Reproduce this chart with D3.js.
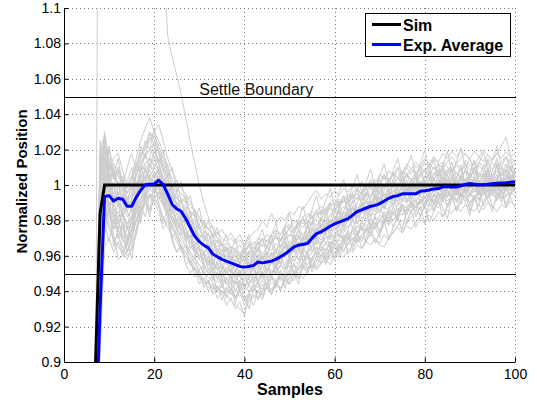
<!DOCTYPE html>
<html><head><meta charset="utf-8">
<script src="https://cdn.jsdelivr.net/npm/d3@7"></script>
<style>
body{margin:0;background:#fff}
svg{display:block;font-family:"Liberation Sans",Arial,Helvetica,sans-serif}
</style>
</head><body>
<svg id="c" width="537" height="403"></svg>
<script>
// ---------------- data ----------------
const xTicks = [0, 20, 40, 60, 80, 100];
const yTicks = [0.9, 0.92, 0.94, 0.96, 0.98, 1.0, 1.02, 1.04, 1.06, 1.08, 1.1];
const yTickLabels = ["0.9","0.92","0.94","0.96","0.98","1","1.02","1.04","1.06","1.08","1.1"];
const settleBounds = [0.95, 1.05];
const settleLabel = "Settle Boundary";
const xLabel = "Samples";
const yLabel = "Normalized Position";
const legendLabels = ["Sim", "Exp. Average"];

// Sim step response (key samples)
const simSamples = [0, 6, 7, 8, 9, 100];
const simValues  = [0, 0, 0.9, 0.984, 1, 1];

// Experimental average, samples 6..100
const avgStart = 6;
const avgValues = [
  0.2, 0.85, 0.93,
  0.9935, 0.994, 0.991, 0.9925, 0.992, 0.988, 0.988, 0.993,
  0.997, 1.0, 1.0004, 1.0006, 1.0027, 1.0002, 0.9948, 0.989, 0.9865, 0.985,
  0.981, 0.976, 0.971, 0.968, 0.966, 0.9645, 0.961, 0.9595, 0.958, 0.957,
  0.956, 0.955, 0.954, 0.9536, 0.954, 0.9545, 0.9565, 0.956, 0.9565, 0.957,
  0.958, 0.9595, 0.961, 0.963, 0.965, 0.966, 0.9665, 0.967, 0.970, 0.9725,
  0.9735, 0.975, 0.9767, 0.978, 0.979, 0.980, 0.981, 0.983, 0.985, 0.986,
  0.987, 0.988, 0.9885, 0.9895, 0.991, 0.9925, 0.9935, 0.994, 0.995, 0.995,
  0.995, 0.995, 0.9965, 0.9968, 0.9972, 0.9978, 0.998, 0.999, 0.999, 0.9988,
  0.9988, 0.9995, 1.0003, 1.0008, 1.0005, 1.0001, 1.0001, 1.0004, 1.0007, 1.001,
  1.0012, 1.0013, 1.0015, 1.0018
];

// Individual experimental runs, samples 7..100, values in thousandths
const runStart = 7;
const runs = [
 [850,985,1025,1012,1003,1010,1000,992,998,1008, 1015,1022,1030,1026,1020,1012,1004,997,992,990, 985,978,975,968,966,962,963,958,955,957, 952,955,950,953,956,953,958,955,960,958, 962,960,965,963,968,966,970,968,974,975, 973,978,980,977,982,980,985,983,988,986, 990,987,992,990,995,993,997,995,998,994, 999,997,1002,998,1001,999,1003,1000,998,1002, 1000,1004,1001,1003,999,1002,1005,1001,1003,1000, 1004,1001,1005,1002],
 [820,940,990,978,968,972,965,960,963,972, 985,992,998,1003,1000,994,988,982,978,975, 972,966,962,958,955,950,952,947,945,948, 944,946,942,945,947,944,948,950,947,952, 950,955,953,957,960,958,963,961,965,968, 966,970,972,970,975,973,977,979,978,982, 980,984,983,986,988,985,990,988,992,990, 993,991,994,990,995,993,996,994,997,995, 998,995,999,997,996,999,997,1000,998,996, 999,997,1000,998],
 [870,995,1010,998,990,996,985,978,982,990, 998,1005,1008,1004,1010,1002,995,988,984,982, 978,975,970,964,962,966,958,960,955,953, 955,952,956,950,952,958,955,959,956,960, 957,962,960,965,962,968,966,970,972,975, 972,977,975,980,978,982,984,981,986,988, 985,990,988,992,990,995,992,996,994,998, 995,999,996,1000,998,996,1001,999,1003,1000, 1002,999,1004,1001,1003,1000,1002,1005,1002,1004, 1001,1004,1002,1005],
 [880,1010,1020,1005,1000,1008,998,990,995,1005, 1012,1018,1020,1024,1018,1010,1002,996,993,990, 988,985,982,976,974,972,970,968,966,967, 965,964,966,962,965,968,966,970,968,972, 975,972,977,975,980,978,982,984,981,985, 988,985,990,992,989,994,991,996,998,995, 1000,998,1003,1000,1005,1002,1006,1004,1008,1005, 1009,1006,1010,1008,1012,1009,1011,1013,1010,1008, 1012,1010,1014,1011,1009,1013,1010,1015,1012,1010, 1013,1016,1012,1014],
 [800,920,980,985,975,980,972,968,975,985, 992,996,1000,998,995,990,983,976,970,965, 960,956,952,948,945,942,944,940,938,942, 939,936,940,935,938,942,940,944,941,945, 943,948,946,950,948,952,955,953,957,960, 958,962,960,965,963,967,970,968,972,975, 973,977,975,980,978,982,980,984,983,987, 985,988,986,990,988,992,989,993,991,994, 992,995,993,990,994,992,996,993,995,992, 995,993,996,994],
 [860,1000,1028,1015,1005,1000,990,982,985,995, 1005,1012,1015,1012,1008,1000,990,982,975,972, 968,962,958,955,950,948,945,942,940,938, 935,932,930,927,935,938,936,940,943,941, 945,948,946,951,954,952,957,960,958,962, 965,963,968,966,970,972,970,974,977,975, 980,978,982,980,985,983,987,985,989,987, 990,988,992,990,994,991,995,993,997,994, 996,998,995,999,997,1000,998,996,999,997, 1000,998,1001,999],
 [845,960,1000,1002,995,988,994,985,980,990, 1000,1003,998,1006,1002,998,992,995,988,984, 980,982,975,970,972,965,968,962,960,964, 958,960,955,958,953,957,960,955,959,962, 958,963,960,966,962,968,965,970,968,972, 976,973,978,976,981,979,983,980,985,988, 984,989,986,991,988,993,991,995,992,997, 993,998,995,999,996,1000,997,1001,998,1002, 999,1003,1000,1004,1001,998,1002,999,1003,1000, 1004,1001,1003,1006],
 [890,1015,1022,1010,1015,1018,1008,1000,1005,1015, 1025,1032,1038,1030,1025,1018,1010,1003,998,995, 992,988,985,980,978,975,972,973,970,968, 970,967,969,965,968,966,970,968,972,970, 974,972,976,978,975,980,978,982,985,983, 986,984,988,990,987,991,989,993,995,992, 996,994,998,996,1000,997,1001,999,1003,1000, 1002,1005,1001,1004,1006,1003,1007,1004,1008,1005, 1007,1004,1008,1006,1003,1007,1005,1009,1006,1003, 1007,1005,1008,1006],
 [830,950,985,975,970,965,962,958,965,975, 982,990,995,992,996,990,985,980,975,978, 972,968,965,960,962,956,958,953,955,950, 952,948,950,946,949,952,950,954,952,956, 955,959,962,960,964,962,966,969,967,971, 969,973,976,974,978,976,980,983,981,985, 983,987,985,989,987,991,989,993,991,995, 993,996,994,992,996,994,998,995,999,997, 995,999,996,1000,998,995,999,997,1001,998, 996,1000,997,999],
 [855,975,998,990,982,985,978,975,978,988, 993,998,1003,1000,997,992,986,980,976,970, 966,962,958,955,950,952,948,945,947,944, 942,945,940,943,940,944,942,946,943,947, 945,942,946,944,948,950,947,952,955,952, 956,958,955,960,962,959,964,962,966,964, 968,966,970,967,972,969,974,976,973,977, 975,979,982,978,983,980,985,982,986,984, 988,985,989,987,985,989,986,990,988,985, 989,987,991,988],
 [875,990,1005,1000,995,1002,995,988,992,1000, 1008,1012,1015,1010,1015,1008,1000,995,990,988, 985,980,978,975,970,972,968,965,967,963, 965,962,960,963,961,965,963,967,965,969, 970,968,972,975,973,977,980,978,982,985, 983,987,990,988,992,990,995,993,997,995, 999,1002,998,1003,1006,1002,1007,1004,1008,1010, 1006,1011,1008,1013,1010,1015,1012,1009,1013,1016, 1012,1015,1018,1014,1011,1016,1013,1017,1014,1018, 1022,1027,1016,1013],
 [840,945,992,988,980,975,970,966,972,980, 988,995,992,998,993,988,982,978,972,968, 965,960,956,952,955,950,948,951,947,945, 948,944,946,942,945,948,946,950,948,952, 951,954,952,956,958,955,960,958,962,965, 963,967,965,969,972,970,974,972,976,979, 977,980,978,983,981,985,983,987,985,989, 987,991,989,993,990,994,992,995,993,997, 994,998,996,993,997,995,999,996,994,998, 996,999,997,1000],
 [865,1005,1015,1008,1012,1005,1000,995,1002,1010, 1018,1020,1025,1028,1022,1015,1008,1000,995,992, 990,985,983,978,980,975,977,972,975,970, 973,968,972,966,970,973,975,980,976,984, 978,982,980,985,983,988,986,990,994,997, 992,995,993,997,994,998,996,1000,997,1002, 999,1003,1001,1006,1003,1008,1005,1010,1007,1012, 1009,1013,1010,1015,1012,1016,1013,1018,1015,1019, 1016,1020,1017,1015,1019,1016,1020,1017,1014,1018, 1015,1019,1016,1018],
 [850,970,1008,995,988,992,983,976,970,980, 990,996,1002,1006,1004,998,990,985,980,976, 973,970,964,960,958,955,957,952,954,950, 948,952,949,946,950,947,951,949,953,950, 954,957,955,959,957,961,964,962,966,969, 967,971,969,973,971,969,973,970,967,971, 968,972,969,966,965,970,973,977,980,978, 982,985,983,987,985,989,987,991,989,993, 991,995,993,990,994,992,996,993,997,995, 993,997,995,998],
 [880,1008,1030,1010,992,980,970,962,968,985, 1000,1010,1012,1008,1004,996,988,982,978,974, 970,968,963,960,957,958,954,952,950,953, 951,949,952,948,951,954,952,955,958,956, 960,958,962,960,964,967,965,969,972,970, 974,977,975,979,977,981,984,982,986,984, 988,986,990,993,991,995,993,991,995,998, 996,994,998,1001,999,997,1001,1004,1000,998, 1002,1005,1001,1004,1002,999,1003,1006,1003,1000, 1004,1002,1005,1003],
 [860,982,1002,996,1000,994,998,990,994,1000, 1004,1008,1004,1010,1006,1002,997,993,988,985, 982,977,972,970,965,967,962,964,959,961, 957,960,956,959,955,958,961,959,962,960, 963,966,964,968,966,970,968,972,975,973, 977,975,979,982,980,984,982,986,984,988, 991,989,993,991,995,993,997,995,999,996, 1000,998,1002,999,1003,1001,998,1002,1000,1004, 1001,1005,1002,999,1003,1001,1005,1002,1006,1003, 1001,1005,1003,1006],
 [780,905,965,970,962,968,960,962,970,980, 986,990,985,992,988,982,976,972,968,963, 960,955,952,948,944,946,941,943,939,942, 938,941,937,940,943,940,944,941,945,948, 946,950,948,952,955,953,957,955,959,962, 960,964,962,966,969,967,971,969,973,976, 974,978,976,980,983,981,985,983,987,985, 989,987,991,989,993,990,994,992,996,993, 997,994,991,995,993,997,994,998,995,993, 997,994,998,996],
 [870,998,1018,1012,1004,1010,1002,996,1000,1006, 1010,1016,1020,1016,1012,1005,998,992,990,986, 984,980,976,972,970,968,966,964,962,965, 961,964,960,963,966,964,968,965,969,967, 971,969,973,971,975,978,976,980,978,982, 985,983,987,985,989,992,990,994,992,996, 994,998,996,1000,998,1002,1000,1004,1002,1006, 1003,1007,1005,1009,1006,1010,1008,1005,1009,1007, 1011,1008,1012,1009,1007,1011,1008,1012,1009,1013, 1010,1008,1011,1009],
 [835,955,988,982,976,983,978,970,975,984, 990,994,998,995,1000,993,984,976,970,966, 962,958,953,950,946,944,942,940,943,939, 941,937,940,936,939,936,940,938,942,940, 944,941,945,948,946,950,953,951,955,958, 956,960,958,962,965,963,967,970,968,972, 975,973,977,980,978,982,980,984,987,985, 989,987,991,988,992,990,994,991,995,993, 997,994,998,995,993,997,994,998,996,999, 996,1000,997,1001],
 [885,1012,1015,1002,1008,1000,1005,998,1004,1012, 1018,1022,1026,1030,1034,1025,1015,1008,1002,998, 995,990,986,982,978,975,972,970,967,965, 963,960,962,958,961,959,963,961,965,963, 967,965,969,972,970,974,972,976,979,977, 981,979,983,986,984,988,986,990,993,991, 995,993,997,995,999,1002,1000,1004,1001,1005, 1003,1001,1005,1008,1004,1007,1005,1009,1006,1010, 1007,1004,1008,1005,1009,1006,1003,1007,1004,1008, 1005,1009,1006,1004],
 [850,1500,1450,1400,1380,1350,1330,1300,1280,1250, 1230,1200,1180,1160,1145,1133,1084,1072,1062,1051, 1038,1024,1012,1000,990,982,975,970,966,962, 960,957,959,955,958,956,960,958,962,960, 964,962,966,964,968,971,969,973,971,975, 978,976,980,978,982,985,983,987,985,989, 987,991,989,993,991,995,993,997,995,999, 996,1000,998,1002,999,1003,1000,1004,1001,998, 1002,999,1003,1000,1004,1001,1005,1002,999,1003, 1000,1004,1001,1005],
 [865,1018,1002,985,978,990,975,968,980,995, 1003,1000,1012,1005,998,1003,992,985,990,978, 972,975,962,966,955,960,950,957,948,953, 945,952,941,948,956,945,952,960,950,958, 963,955,966,960,972,963,970,978,968,975, 982,972,980,988,976,985,992,982,990,995, 985,993,1000,990,997,1004,993,1000,1008,996, 1003,995,1008,1000,993,1005,1012,1000,1006,996, 1004,1011,998,1006,1014,1002,996,1008,1001,1012, 1003,997,1010,1004],
 [810,930,972,990,965,975,985,962,970,990, 978,996,985,1002,990,980,986,970,975,962, 966,955,960,948,952,944,950,940,946,936, 942,933,945,938,930,941,946,937,944,950, 942,952,947,958,950,944,956,962,953,960, 968,958,965,972,962,970,966,976,968,980, 974,982,976,970,984,978,988,980,975,986, 992,982,988,978,990,985,995,987,981,993, 986,996,990,983,994,988,998,991,985,996, 990,999,993,987],
 [895,1025,1010,1020,1005,1015,1000,1010,1018,1008, 1022,1015,1030,1022,1012,1020,1005,1010,996,1002, 990,994,982,987,975,980,970,976,966,972, 962,970,958,966,972,960,968,975,964,972, 978,968,976,984,973,980,988,978,986,994, 983,991,998,988,996,1003,992,999,1006,996, 1002,1009,998,1005,1012,1001,1008,1015,1004,1010, 1017,1005,1012,1020,1008,1014,1004,1011,1019,1007, 1013,1021,1009,1015,1005,1012,1019,1008,1014,1022, 1010,1016,1008,1013],
 [840,965,1012,1000,983,970,978,966,975,992, 1006,1000,1010,1016,1008,994,998,985,980,984, 975,970,974,963,958,962,952,956,946,951, 955,946,950,942,947,954,944,951,958,948, 955,962,952,959,967,957,964,972,962,969, 976,966,973,981,971,978,986,975,982,990, 980,987,995,984,991,998,988,994,1001,991, 997,1005,994,1000,1007,996,1002,992,999,1006, 995,1002,1009,998,1004,994,1001,1008,997,1003, 1010,999,1005,996],
 [825,935,1005,990,972,958,960,968,958,975, 988,982,995,990,985,975,980,968,962,966, 955,958,948,952,942,946,938,943,935,940, 945,936,941,932,938,944,935,940,948,938, 944,950,942,948,956,947,953,960,951,957, 964,955,961,968,959,966,973,963,970,977, 968,975,982,972,978,985,976,982,989,979, 985,992,982,988,995,985,991,998,987,993, 1000,989,995,985,992,999,988,994,1001,991, 997,987,994,1000],
 [870,1000,995,1008,990,998,1005,985,992,1002, 995,1010,1002,996,1008,992,985,990,978,982, 970,976,965,970,960,966,955,962,952,958, 950,958,948,956,963,952,960,948,955,962, 952,960,968,958,965,972,962,969,976,966, 972,980,970,977,985,974,981,988,978,985, 992,982,989,996,986,993,1000,989,996,1003, 992,999,989,996,1004,993,1000,1008,997,1004, 994,1001,1009,998,1005,995,1002,1010,999,1006, 996,1003,1011,1000],
 [885,1020,1028,1005,985,975,968,975,990,1005, 1015,1025,1020,1032,1018,1008,1012,998,1003,990, 994,982,986,975,979,968,973,962,967,958, 963,954,960,966,955,962,968,958,965,972, 962,969,975,965,972,979,969,976,983,973, 980,987,977,984,991,981,988,995,985,992, 999,989,996,1003,993,1000,1007,997,1004,994, 1001,1008,998,1005,1012,1002,1009,999,1006,1013, 1003,1010,1000,1007,1014,1004,1011,1001,1008,1015, 1005,1012,1002,1009],
 [815,925,978,968,980,972,962,970,980,972, 985,992,982,995,988,978,982,970,962,966, 955,950,954,944,948,940,944,936,940,932, 936,930,934,926,938,932,940,935,943,938, 946,940,949,944,952,947,955,950,958,953, 961,956,964,959,967,962,970,965,973,968, 976,971,979,974,982,977,985,980,988,983, 990,985,992,987,994,989,996,991,997,992, 998,993,999,994,1000,995,1001,996,1002,997, 1003,998,1004,999],
 [858,990,1015,1022,1008,1000,992,1002,1010,998, 1008,1018,1010,1020,1012,1004,995,1000,987,992, 980,985,975,978,968,973,963,969,960,965, 957,963,955,961,967,958,964,970,960,967, 973,964,970,977,968,975,982,972,979,986, 976,983,990,980,987,994,984,991,998,988, 995,1002,992,999,1006,996,1003,1010,1000,1007, 997,1004,1011,1001,1008,998,1005,1012,1002,1009, 999,1006,1013,1003,1010,1000,1007,1014,1004,1011, 1001,1008,1015,1005],
 [848,972,995,985,1000,990,982,990,1000,992, 1002,995,1006,1000,992,996,984,988,975,980, 968,972,960,964,952,957,946,951,942,948, 940,946,952,942,948,955,945,951,942,949, 956,946,952,959,949,955,962,952,958,965, 955,961,968,958,964,971,961,967,974,964, 970,977,967,973,980,970,976,983,973,979, 986,976,982,989,979,985,992,982,988,995, 985,991,998,988,994,984,990,997,987,993, 999,989,995,1001],
 [878,1005,1020,1000,1010,995,985,993,985,998, 1010,1003,1016,1024,1012,1000,1006,992,996,984, 988,976,981,970,974,964,969,959,964,955, 960,951,957,963,953,959,965,955,961,968, 958,965,971,961,968,975,965,972,979,969, 976,983,973,980,987,977,984,991,981,988, 995,985,992,999,989,996,1003,993,1000,990, 997,1004,994,1001,1008,998,1005,995,1002,1009, 999,1006,996,1003,1010,1000,1007,997,1004,1011, 1001,1008,998,1005],
 [832,948,978,995,988,978,985,975,982,994, 1000,992,1004,998,1000,988,992,980,984,972, 976,964,968,958,962,952,957,947,952,944, 949,940,946,952,943,949,955,946,952,958, 949,955,962,953,959,966,957,963,970,960, 967,974,964,971,978,968,975,982,972,979, 986,976,983,990,980,987,994,984,991,998, 988,995,1002,992,999,989,996,1003,993,1000, 990,997,1004,994,1001,991,998,1005,995,1002, 992,999,1006,996]
];

// ---------------- drawing ----------------
const svg = d3.select("#c");
const L = 64, R = 515, T = 8, B = 362;
const x = d3.scaleLinear().domain([0, 100]).range([L, R]);
const y = d3.scaleLinear().domain([0.9, 1.1]).range([B, T]);
const px = v => Math.round(v) + 0.5;

svg.append("defs").append("clipPath").attr("id", "clip")
  .append("rect").attr("x", L).attr("y", T).attr("width", R - L + 1).attr("height", B - T + 1);

// grid
const grid = svg.append("g").attr("stroke", "#7a7a7a").attr("stroke-width", 1).attr("stroke-dasharray", "1,3");
grid.selectAll("line.v").data(xTicks.filter(d => d > 0)).join("line")
  .attr("x1", d => px(x(d))).attr("x2", d => px(x(d))).attr("y1", T).attr("y2", B);
grid.selectAll("line.h").data(yTicks.filter(d => d > 0.9)).join("line")
  .attr("y1", d => px(y(d))).attr("y2", d => px(y(d))).attr("x1", L).attr("x2", R + 1);

const plot = svg.append("g").attr("clip-path", "url(#clip)");

// runs
const runLine = d3.line().x((d, i) => x(runStart + i)).y(d => y(d / 1000));
plot.append("g").selectAll("path").data(runs).join("path")
  .attr("d", runLine).attr("fill", "none").attr("stroke", "#cccccc").attr("stroke-width", 1);

// settle boundaries
plot.selectAll("line.sb").data(settleBounds).join("line")
  .attr("x1", L).attr("x2", R + 1).attr("y1", d => px(y(d))).attr("y2", d => px(y(d)))
  .attr("stroke", "#000").attr("stroke-width", 1);

// sim
const simLine = d3.line().x(d => x(d[0])).y(d => y(d[1]));
plot.append("path").datum(simSamples.map((s, i) => [s, simValues[i]]))
  .attr("d", simLine).attr("fill", "none").attr("stroke", "#000").attr("stroke-width", 3);

// average
const avgLine = d3.line().x((d, i) => x(avgStart + i)).y(d => y(d));
plot.append("path").datum(avgValues)
  .attr("d", avgLine).attr("fill", "none").attr("stroke", "#0000ff").attr("stroke-width", 3)
  .attr("stroke-linejoin", "round");

// axes
const yAxis = d3.axisLeft(y).tickValues(yTicks).tickFormat((d, i) => yTickLabels[i])
  .tickSizeInner(-4.5).tickSizeOuter(0).tickPadding(3);
const gy = svg.append("g").attr("transform", `translate(${L},0)`).call(yAxis);
const xAxis = d3.axisBottom(x).tickValues(xTicks).tickFormat(d => String(d))
  .tickSizeInner(-4.5).tickSizeOuter(0).tickPadding(7.5);
const gx = svg.append("g").attr("transform", `translate(0,${B})`).call(xAxis);
[gx, gy].forEach(g => {
  g.attr("font-family", null).attr("font-size", null);
  g.selectAll("text").attr("font-size", 14).attr("fill", "#000");
  g.selectAll("line, path").attr("stroke", "#000");
});

// settle label
svg.append("text").attr("x", x(30)).attr("y", px(y(1.05)) - 2.5)
  .attr("font-size", 16).attr("fill", "#111").text(settleLabel);

// axis labels
svg.append("text").attr("x", 290).attr("y", 395).attr("text-anchor", "middle")
  .attr("font-size", 16).attr("font-weight", "bold").text(xLabel);
svg.append("text").attr("transform", "translate(26.5,181.5) rotate(-90)").attr("text-anchor", "middle")
  .attr("font-size", 15).attr("font-weight", "bold").text(yLabel);

// legend
const lg = svg.append("g");
lg.append("rect").attr("x", 365.5).attr("y", 13.5).attr("width", 145).attr("height", 43)
  .attr("fill", "#fff").attr("stroke", "#000").attr("stroke-width", 1);
const legendColors = ["#000", "#0000ff"];
legendLabels.forEach((lab, i) => {
  const yy = 24.5 + i * 20;
  lg.append("line").attr("x1", 372).attr("x2", 401).attr("y1", yy).attr("y2", yy)
    .attr("stroke", legendColors[i]).attr("stroke-width", 3);
  lg.append("text").attr("x", 403).attr("y", yy + 6).attr("font-size", 16)
    .attr("font-weight", "bold").attr("fill", "#000").text(lab);
});
</script>
</body></html>
